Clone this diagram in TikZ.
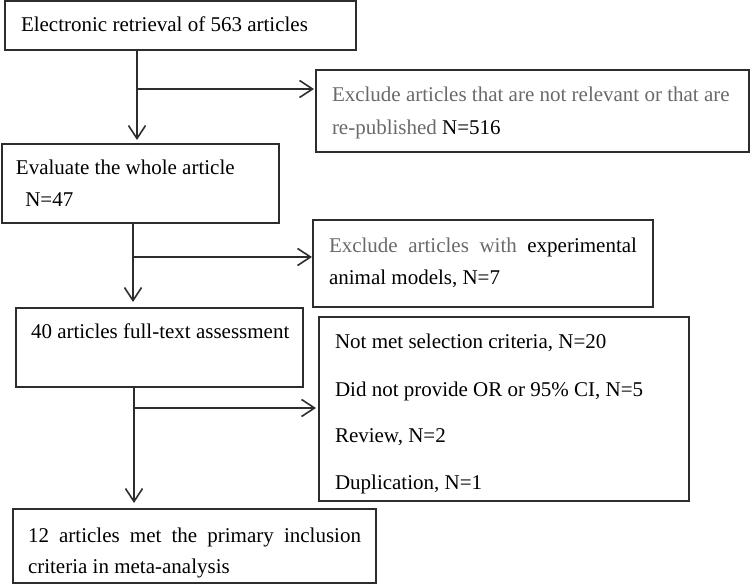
\documentclass[tikz,border=0pt]{standalone}
\usepackage{fontspec}
\setmainfont{Liberation Serif}
\usetikzlibrary{arrows.meta}
\definecolor{txtgray}{RGB}{105,105,105}
\definecolor{linecol}{RGB}{45,45,45}
\tikzset{
  box/.style={draw=linecol, line width=1.4pt, inner sep=0pt, outer sep=0pt, anchor=north west},
  txt/.style={inner sep=0pt, outer sep=0pt, anchor=base west, font=\fontsize{21}{33}\selectfont},
  arr/.style={draw=linecol, line width=1.6pt, -{Straight Barb[length=13pt,width=17pt,line width=1.6pt]}},
  conn/.style={draw=linecol, line width=1.6pt}
}
\begin{document}
\begin{tikzpicture}[x=1pt,y=-1pt]
\useasboundingbox (0,0) rectangle (750,585);
% boxes
\node[box, minimum width=351pt, minimum height=49pt] (b1) at (5,1) {};
\node[box, minimum width=433pt, minimum height=82pt] (b2) at (316,70) {};
\node[box, minimum width=277pt, minimum height=79pt] (b3) at (2,144) {};
\node[box, minimum width=340pt, minimum height=87pt] (b4) at (313,220) {};
\node[box, minimum width=287pt, minimum height=79pt] (b5) at (16,308) {};
\node[box, minimum width=370pt, minimum height=184pt] (b6) at (319,317) {};
\node[box, minimum width=363pt, minimum height=74pt] (b7) at (13,509) {};
% texts
\node[txt] (t1) at (21,32) {Electronic retrieval of 563 articles};
\node[txt] (t2a) at (332,102) {\color{txtgray}Exclude articles that are not relevant or that are};
\node[txt] (t2b) at (332,135) {\color{txtgray}re-published \color{black}N=516};
\node[txt] (t3a) at (16,175) {Evaluate the whole article};
\node[txt] (t3b) at (20,207) {\ N=47};
\node[txt] (t4a) at (329,253) {\makebox[308pt][s]{\color{txtgray}Exclude articles with \color{black}experimental}};
\node[txt] (t4b) at (329,285) {animal models, N=7};
\node[txt] (t5) at (31,339) {40 articles full-text assessment};
\node[txt] (t6a) at (335,349) {Not met selection criteria, N=20};
\node[txt] (t6b) at (335,396) {Did not provide OR or 95\% CI, N=5};
\node[txt] (t6c) at (335,442) {Review, N=2};
\node[txt] (t6d) at (335,489) {Duplication, N=1};
\node[txt] (t7a) at (28,542) {\makebox[333pt][s]{12 articles met the primary inclusion}};
\node[txt] (t7b) at (28,573) {criteria in meta-analysis};
% connectors
\coordinate (x1) at (137,0);
\coordinate (x2) at (133,0);
\coordinate (x3) at (134,0);
\coordinate (j1) at (137,89);
\coordinate (j2) at (133,257);
\coordinate (j3) at (134,408);
\draw[arr, shorten >=4pt] (b1.south -| x1) -- (b3.north -| x1);
\draw[arr, shorten >=2pt] (j1) -- (j1 -| b2.west);
\draw[arr, shorten >=6pt] (b3.south -| x2) -- (b5.north -| x2);
\draw[arr, shorten >=1pt] (j2) -- (j2 -| b4.west);
\draw[arr, shorten >=6pt] (b5.south -| x3) -- (b7.north -| x3);
\draw[arr, shorten >=3pt] (j3) -- (j3 -| b6.west);
\end{tikzpicture}
\end{document}
